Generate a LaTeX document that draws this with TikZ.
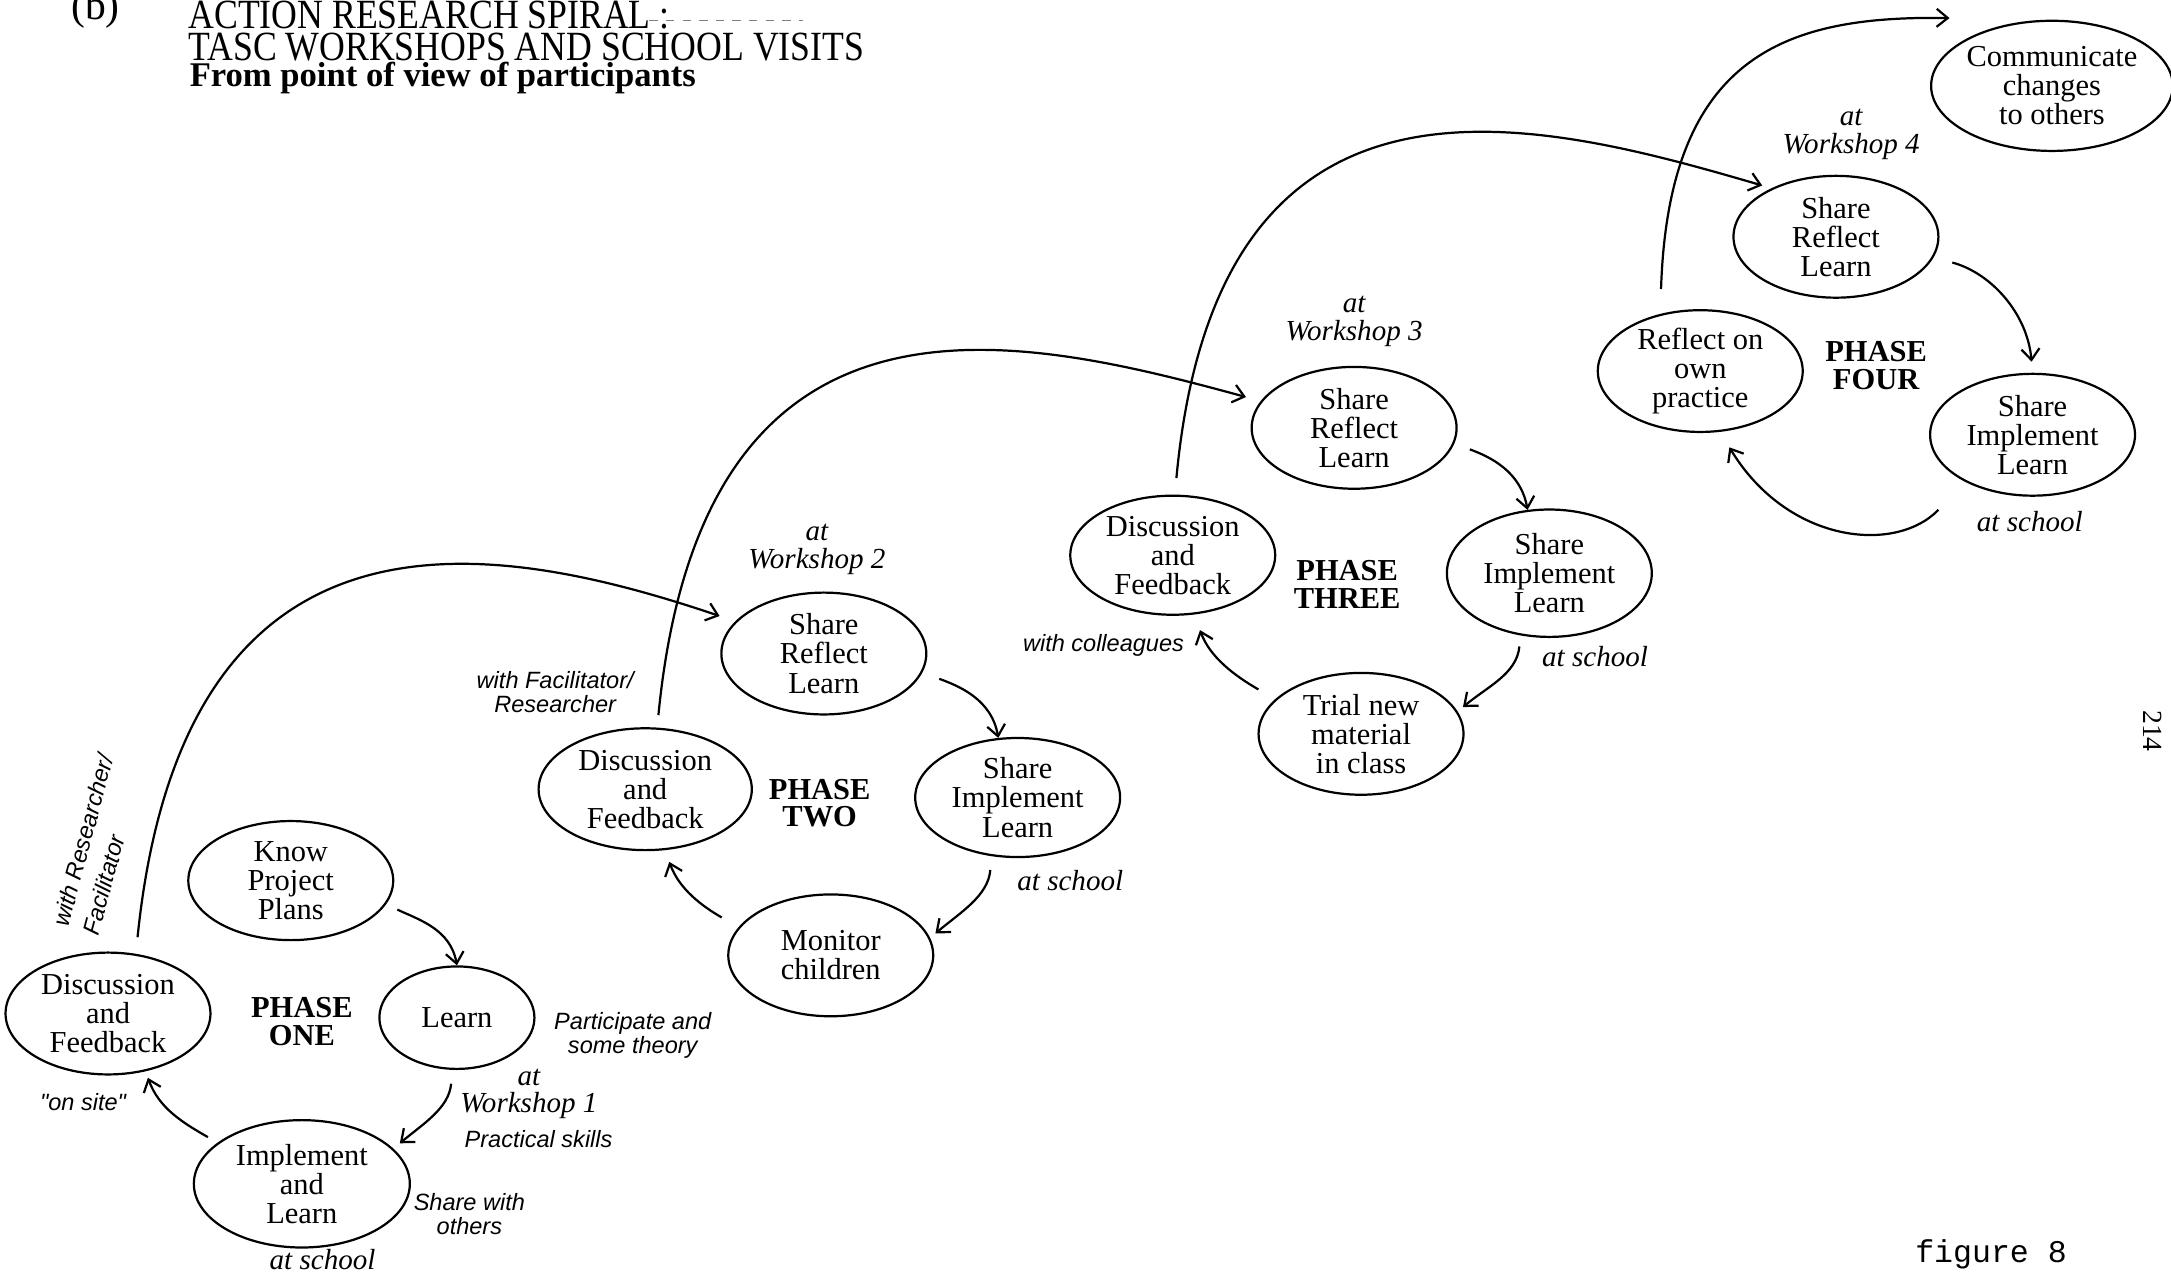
\documentclass[tikz,border=0pt]{standalone}
\usepackage{fontspec}
\setmainfont{Liberation Serif}
\newfontfamily\notefont{Liberation Sans}
\setmonofont{Liberation Mono}
\usetikzlibrary{shapes.geometric,arrows.meta}

\begin{document}
\begin{tikzpicture}[x=0.5pt,y=-0.5pt,
  stage/.style={draw, ellipse, line width=0.8pt, inner sep=0pt,
    minimum width=74pt, minimum height=44pt, align=center,
    font=\fontsize{11}{10.5}\selectfont},
  phase/.style={align=center, font=\fontsize{11}{10}\selectfont\bfseries},
  place/.style={align=center, font=\fontsize{10.5}{10}\selectfont\itshape},
  note/.style={align=center, font=\notefont\itshape\fontsize{8.5}{8.5}\selectfont},
  flow/.style={line width=0.8pt, -{Straight Barb[length=4pt,width=6.5pt]}},
]
\useasboundingbox (0,0) rectangle (1568,921);

% ---------- heading ----------
\node[font=\fontsize{15}{15}\selectfont] (lbl) at (69,7) {(b)};
\node[anchor=west, font=\fontsize{15}{15}\selectfont] (t1) at (129,11)
  {\scalebox{0.86}[1]{ACTION RESEARCH SPIRAL :}};
\coordinate (r1) at (469,15);
\coordinate (r2) at (580,15);
\draw[line width=0.4pt, gray, dashed] (r1) -- (r2);
\node[anchor=west, font=\fontsize{15}{15}\selectfont] (t2) at (129,34)
  {\scalebox{0.86}[1]{TASC WORKSHOPS AND SCHOOL VISITS}};
\node[anchor=west, font=\fontsize{12.5}{12.5}\selectfont\bfseries] (t3) at (130,56)
  {From point of view of participants};

% ---------- phase one ----------
\node[stage] (df1) at (78,732) {Discussion\\and\\Feedback};
\node[stage, minimum height=43pt] (kpp) at (210,636) {Know\\Project\\Plans};
\node[stage, minimum width=56pt, minimum height=37pt] (lrn) at (330,735) {Learn};
\node[stage, minimum width=78pt, minimum height=46pt] (ial) at (218,855) {Implement\\and\\Learn};
\node[phase] (p1) at (218,738) {PHASE\\ONE};

\node[note, rotate=75] (n1a) at (60,607) {with Researcher/};
\node[note, rotate=75] (n1b) at (75,639) {Facilitator};
\node[note] (n2) at (60,796) {"on site"};
\node[note] (n3) at (457,748) {Participate and\\some theory};
\node[place] (w1) at (382,790) {at\\Workshop 1};
\node[note] (n4) at (389,823) {Practical skills};
\node[note] (n5) at (339,877) {Share with\\others};
\node[place] (s1) at (233,910) {at school};

\draw[flow, shorten <=4.5pt] (kpp.-14) to[out=-25,in=100] (lrn.north);
\draw[flow, shorten <=5pt, shorten >=3pt] (lrn.-95) to[out=-95,in=40] (ial.21);
\draw[flow, shorten <=4pt, shorten >=2.5pt] (ial.154) to[out=150,in=-70] (df1.-57);

% ---------- phase two ----------
\node[stage, minimum width=77pt] (df2) at (466,570) {Discussion\\and\\Feedback};
\node[stage] (srl2) at (595,472) {Share\\Reflect\\Learn};
\node[stage, minimum height=43pt] (sil2) at (735,576) {Share\\Implement\\Learn};
\node[stage] (mon) at (600,690) {Monitor\\children};
\node[phase] (p2) at (592,580) {PHASE\\TWO};

\node[place] (w2) at (590,397) {at\\Workshop 2};
\node[note] (n6) at (401,500) {with Facilitator/\\Researcher};
\node[place] (s2) at (773,636) {at school};

\draw[flow, shorten <=6.5pt] (srl2.-11) to[out=-20,in=100] (sil2.108);
\draw[flow, shorten <=5pt, shorten >=2.5pt] (sil2.-114) to[out=-95,in=40] (mon.10);
\draw[flow, shorten <=7pt, shorten >=4.5pt] (mon.163) to[out=150,in=-70] (df2.-72);

% ---------- phase three ----------
\node[stage, minimum height=43pt] (df3) at (847,401) {Discussion\\and\\Feedback};
\node[stage] (srl3) at (978,309) {Share\\Reflect\\Learn};
\node[stage, minimum height=46pt] (sil3) at (1119,414) {Share\\Implement\\Learn};
\node[stage] (trial) at (983,530) {Trial new\\material\\in class};
\node[phase] (p3) at (973,422) {PHASE\\THREE};

\node[place] (w3) at (978,232) {at\\Workshop 3};
\node[note] (n7) at (797,466) {with colleagues};
\node[place] (s3) at (1152,474) {at school};

\draw[flow, shorten <=6pt] (srl3.-9) to[out=-20,in=100] (sil3.109);
\draw[flow, shorten <=4pt, shorten >=2.5pt] (sil3.-115) to[out=-95,in=40] (trial.13);
\draw[flow, shorten <=7pt, shorten >=6pt] (trial.158) to[out=150,in=-70] (df3.-70);

% ---------- phase four ----------
\node[stage, minimum height=43pt] (rop) at (1228,268) {Reflect on\\own\\practice};
\node[stage] (srl4) at (1326,171) {Share\\Reflect\\Learn};
\node[stage] (sil4) at (1468,314) {Share\\Implement\\Learn};
\node[stage, minimum width=77pt, minimum height=47pt] (comm) at (1482,62)
  {Communicate\\changes\\to others};
\node[phase] (p4) at (1355,264) {PHASE\\FOUR};

\node[place] (w4) at (1337,97) {at\\Workshop 4};
\node[place] (s4) at (1466,377) {at school};

\draw[flow, shorten <=7pt, shorten >=4pt] (srl4.-12) to[out=-15,in=95] (sil4.north);
\draw[flow, shorten <=14pt, shorten >=6.5pt]
  (sil4.-145) .. controls +(-50,52) and +(49,81) .. (rop.-72);

% ---------- spiral links between phases ----------
\draw[flow, shorten <=6pt, shorten >=6pt]
  (df1.65) .. controls +(35,-342) and +(-172,-58) .. (srl2.160);
\draw[flow, shorten <=4.5pt, shorten >=5.5pt]
  (df2.79) .. controls +(33,-338) and +(-176,-48) .. (srl3.164);
\draw[flow, shorten <=6pt, shorten >=3.5pt]
  (df3.88) .. controls +(31,-332) and +(-171,-50) .. (srl4.143);
\draw[flow, shorten <=9pt, shorten >=37pt]
  (rop.125) .. controls +(6,-188) and +(-191,-3) .. (comm.north);

% ---------- page marks ----------
\node[rotate=-90, font=\fontsize{10}{10}\selectfont] (pg) at (1555,528) {214};
\node[font=\ttfamily\fontsize{11.4}{11.4}\selectfont] (fig) at (1438,906) {figure 8};
\end{tikzpicture}
\end{document}
